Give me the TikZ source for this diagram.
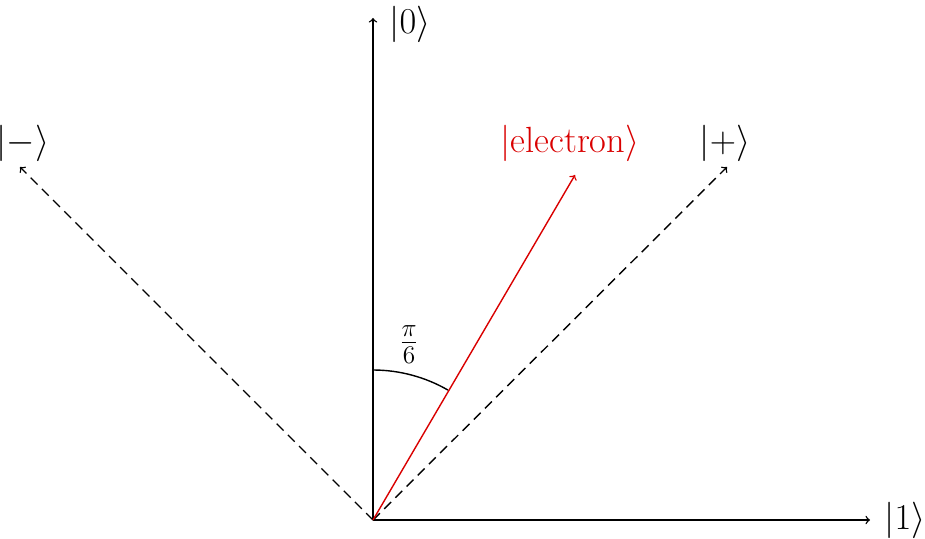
\documentclass[tikz,border=0pt]{standalone}
\usepackage{amsmath}
\begin{document}
\begin{tikzpicture}[x=0.02cm,y=0.02cm,line width=0.8pt,
  lbl/.style={font=\huge},
  ax/.style={->,black},
  dsh/.style={->,dash pattern=on 5.5pt off 3.5pt}]
\useasboundingbox (0,0) rectangle (925,538);
\coordinate (O) at (373,18);
\coordinate (Y) at (373,520);
\coordinate (X) at (870,18);
\coordinate (P) at (727,371);
\coordinate (M) at (20,371);
\coordinate (E) at (575,363);
\draw[ax] (O) -- (Y);
\draw[ax] (O) -- (X);
\draw[dsh] (O) -- (P);
\draw[dsh] (O) -- (M);
\draw[->,red!85!black] (O) -- (E);
\draw (373,168) arc[start angle=90,end angle=60,radius=150];
\node[lbl] (l0) at (410,514) {$|0\rangle$};
\node[lbl] (l1) at (905,18) {$|1\rangle$};
\node[lbl] (lp) at (725,395) {$|+\rangle$};
\node[lbl] (lm) at (23,395) {$|-\rangle$};
\node[lbl,red!85!black] (le) at (570,395) {$|\text{electron}\rangle$};
\node[font=\huge] (ang) at (409,193) {$\frac{\pi}{6}$};
\end{tikzpicture}
\end{document}
